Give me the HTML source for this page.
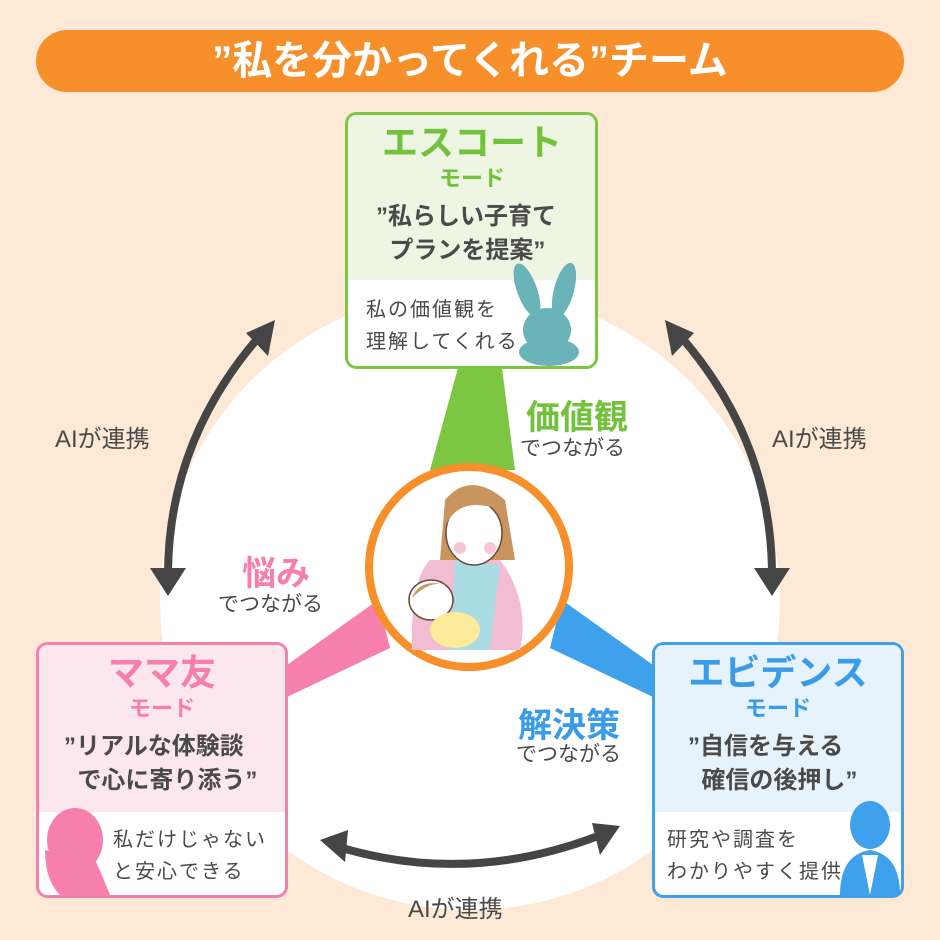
<!DOCTYPE html>
<html><head><meta charset="utf-8"><style>
body{margin:0;width:940px;height:940px;background:#fde9d5;font-family:"Liberation Sans","Noto Sans CJK JP",sans-serif;position:relative;overflow:hidden}
.a{position:absolute;white-space:nowrap}
.c{text-align:center}
.b{font-weight:bold}
.dk{color:#4a4a4a}
</style></head><body>
<svg class="a" style="left:0;top:0" width="940" height="940">
<circle cx="470" cy="600" r="310" fill="#fff"/>
<rect x="36" y="30" width="868" height="62" rx="31" fill="#f7902a"/>
<polygon points="458,368 502,368 515,470 430,470" fill="#7cc642"/>
<polygon points="287,665 287,697 390,648 378,600" fill="#f77fad"/>
<polygon points="653,665 653,697 550,648 562,600" fill="#3fa0ec"/>
<g fill="none" stroke="#454545" stroke-width="8" stroke-linecap="round">
<path d="M258,338 Q170,440 168,570"/>
<path d="M682,338 Q770,440 772,570"/>
<path d="M342,848 Q470,885 598,836"/>
</g>
<g fill="#454545">
<polygon points="275,320 246,333 268,356"/>
<polygon points="150,568 186,568 168,596"/>
<polygon points="665,320 694,333 672,356"/>
<polygon points="790,568 754,568 772,596"/>
<polygon points="320,840 348,830 345,862"/>
<polygon points="620,826 592,823 600,855"/>
</g>
<rect x="346.5" y="113.5" width="250" height="254" rx="10" fill="#fff" stroke="#7cc642" stroke-width="3"/>
<path d="M348,280 V123 a8,8 0 0 1 8,-8 H587 a8,8 0 0 1 8,8 V280 Z" fill="#eef6e3"/>
<rect x="37.5" y="643.5" width="249" height="253" rx="10" fill="#fff" stroke="#f77fad" stroke-width="3"/>
<path d="M39,812 V653 a8,8 0 0 1 8,-8 H277 a8,8 0 0 1 8,8 V812 Z" fill="#fde7ef"/>
<rect x="653.5" y="643.5" width="249" height="253" rx="10" fill="#fff" stroke="#3fa0ec" stroke-width="3"/>
<path d="M655,812 V653 a8,8 0 0 1 8,-8 H893 a8,8 0 0 1 8,8 V812 Z" fill="#e6f2fc"/>
<g fill="#6ab3b8">
<ellipse cx="527" cy="290" rx="10" ry="28" transform="rotate(-20 527 290)"/>
<ellipse cx="564" cy="290" rx="10" ry="28" transform="rotate(15 564 290)"/>
<ellipse cx="547" cy="330" rx="24" ry="22"/>
<ellipse cx="549" cy="352" rx="30" ry="14"/>
</g>
<g fill="#f77fad">
<ellipse cx="75" cy="840" rx="28" ry="32"/>
<path d="M45,850 Q45,880 60,895 H110 Q100,870 95,860 Z"/>
</g>
<g fill="#3fa0ec">
<ellipse cx="870" cy="825" rx="20" ry="24"/>
<path d="M840,895 Q840,855 870,850 Q900,855 900,895 Z"/>
</g>
<path d="M862,855 L870,895 L878,855 Z" fill="#fff"/>
<circle cx="469" cy="567" r="100" fill="#fff" stroke="#f7902a" stroke-width="8"/>
<path d="M430,560 Q410,580 412,650 L520,650 Q530,600 500,560 Z" fill="#f2bdd3"/>
<path d="M455,560 L500,565 L490,650 L450,650 Z" fill="#a9dbe3"/>
<path d="M445,500 Q470,470 505,500 L515,560 L440,560 Z" fill="#c9955f"/>
<ellipse cx="474" cy="533" rx="28" ry="32" fill="#fff" stroke="#6b4a3a" stroke-width="1.5"/>
<path d="M446,525 Q460,495 500,510 Q490,490 470,490 Q448,495 446,525Z" fill="#c9955f"/>
<circle cx="460" cy="548" r="6" fill="#f7c6d2"/><circle cx="490" cy="548" r="6" fill="#f7c6d2"/>
<ellipse cx="431" cy="600" rx="22" ry="20" fill="#fff" stroke="#6b4a3a" stroke-width="1.5"/>
<path d="M412,598 Q420,578 445,585 Q430,580 412,598Z" fill="#c9955f"/>
<ellipse cx="455" cy="630" rx="25" ry="18" fill="#fbeb9a"/>
</svg>

<div class="a c b" style="left:36px;top:36px;width:868px;font-size:40px;color:#fff;line-height:50px">”私を分かってくれる”チーム</div>

<div class="a c b" style="left:346px;top:122px;width:252px;font-size:36px;color:#72c23c;line-height:42px">エスコート</div>
<div class="a c b" style="left:346px;top:166px;width:252px;font-size:22px;color:#72c23c;line-height:26px">モード</div>
<div class="a b dk" style="left:376px;top:200px;font-size:24px;line-height:34px">”私らしい子育て<br>&nbsp;&nbsp;プランを提案”</div>
<div class="a dk" style="left:366px;top:294px;font-size:20px;line-height:32px;letter-spacing:2px">私の価値観を<br>理解してくれる</div>

<div class="a c b" style="left:37px;top:652px;width:250px;font-size:36px;color:#f77fad;line-height:42px">ママ友</div>
<div class="a c b" style="left:37px;top:696px;width:250px;font-size:22px;color:#f77fad;line-height:26px">モード</div>
<div class="a b dk" style="left:64px;top:730px;font-size:24px;line-height:34px">”リアルな体験談<br>&nbsp;&nbsp;で心に寄り添う”</div>
<div class="a dk" style="left:113px;top:824px;font-size:20px;line-height:32px;letter-spacing:2px">私だけじゃない<br>と安心できる</div>

<div class="a c b" style="left:653px;top:652px;width:250px;font-size:36px;color:#3a9be8;line-height:42px">エビデンス</div>
<div class="a c b" style="left:653px;top:696px;width:250px;font-size:22px;color:#3a9be8;line-height:26px">モード</div>
<div class="a b dk" style="left:688px;top:730px;font-size:24px;line-height:34px">”自信を与える<br>&nbsp;&nbsp;確信の後押し”</div>
<div class="a dk" style="left:667px;top:824px;font-size:20px;line-height:32px;letter-spacing:2px">研究や調査を<br>わかりやすく提供</div>

<div class="a b" style="left:526px;top:390px;font-size:34px;color:#72c23c">価値観</div>
<div class="a dk" style="left:520px;top:432px;font-size:21px">でつながる</div>
<div class="a b" style="left:242px;top:546px;font-size:34px;color:#f77fad">悩み</div>
<div class="a dk" style="left:218px;top:588px;font-size:21px">でつながる</div>
<div class="a b" style="left:518px;top:698px;font-size:34px;color:#3a9be8">解決策</div>
<div class="a dk" style="left:516px;top:738px;font-size:21px">でつながる</div>

<div class="a dk" style="left:55px;top:419px;font-size:24px">AIが連携</div>
<div class="a dk" style="left:772px;top:419px;font-size:24px">AIが連携</div>
<div class="a dk" style="left:408px;top:889px;font-size:24px">AIが連携</div>
</body></html>
